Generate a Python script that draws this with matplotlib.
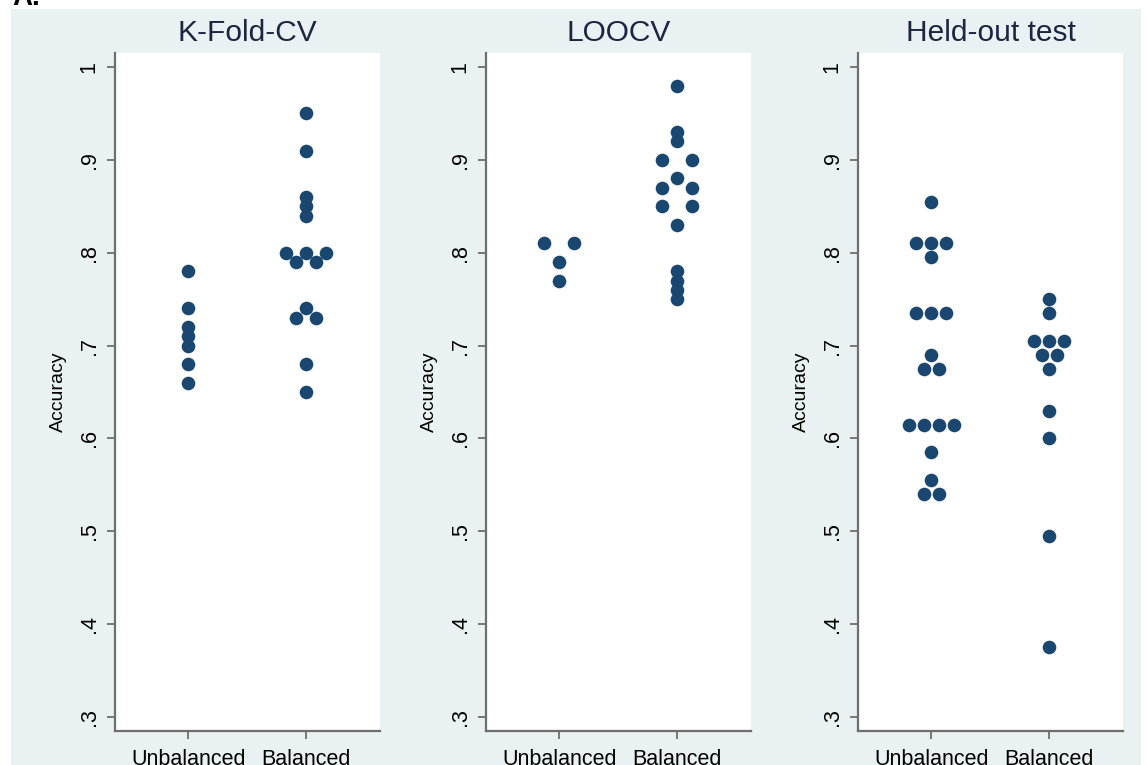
import numpy as np
import matplotlib
matplotlib.use("Agg")
import matplotlib.pyplot as plt
from matplotlib.patches import Rectangle

# ---- data ----
titles = ["K-Fold-CV", "LOOCV", "Held-out test"]
categories = ["Unbalanced", "Balanced"]

kfold_unbalanced = [0.78, 0.74, 0.72, 0.71, 0.70, 0.68, 0.66]
kfold_balanced = [0.95, 0.91, 0.86, 0.85, 0.84, 0.80, 0.80, 0.80, 0.79, 0.79,
                  0.74, 0.73, 0.73, 0.68, 0.65]
loocv_unbalanced = [0.81, 0.81, 0.79, 0.77]
loocv_balanced = [0.98, 0.93, 0.92, 0.90, 0.90, 0.88, 0.87, 0.87, 0.85, 0.85,
                  0.83, 0.78, 0.77, 0.76, 0.75]
heldout_unbalanced = [0.855, 0.81, 0.81, 0.81, 0.795, 0.735, 0.735, 0.735, 0.69,
                      0.675, 0.675, 0.615, 0.615, 0.615, 0.615, 0.585, 0.555,
                      0.54, 0.54]
heldout_balanced = [0.75, 0.735, 0.705, 0.705, 0.705, 0.69, 0.69, 0.675, 0.63,
                    0.60, 0.495, 0.375]

yticks = [0.3, 0.4, 0.5, 0.6, 0.7, 0.8, 0.9, 1.0]
ytick_labels = [".3", ".4", ".5", ".6", ".7", ".8", ".9", "1"]

panels = [
    (kfold_unbalanced, kfold_balanced),
    (loocv_unbalanced, loocv_balanced),
    (heldout_unbalanced, heldout_balanced),
]

# ---- style ----
W, H = 1147, 765
bg = "#eaf1f3"
dot = "#1a476f"
title_col = "#1c2541"
axis_col = "#6e6e6e"
plt.rcParams["font.family"] = ["Liberation Sans", "DejaVu Sans"]

fig = plt.figure(figsize=(W / 100, H / 100), dpi=100)
fig.patch.set_facecolor("white")
fig.patches.append(Rectangle((11 / W, 0), (1141 - 11) / W, (H - 9) / H,
                             transform=fig.transFigure, facecolor=bg,
                             edgecolor="none", zorder=-10))
fig.text(12 / W, 1 - 5 / H, "A.", fontsize=20, fontweight="bold",
         color="black", va="baseline", ha="left")

lefts = [115, 486, 858]
pw = 265
top, bottom = 53, 731
spread = 0.508  # total horizontal width used by the widest row (category units)

for i, (left, title, (ub, bl)) in enumerate(zip(lefts, titles, panels)):
    ax = fig.add_axes([left / W, 1 - bottom / H, pw / W, (bottom - top) / H])
    ax.set_facecolor("white")
    groups = [np.asarray(ub), np.asarray(bl)]
    maxcount = max(np.unique(g, return_counts=True)[1].max() for g in groups)
    step = spread / maxcount
    for ci, g in enumerate(groups):
        vals, counts = np.unique(g, return_counts=True)
        xs, ys = [], []
        for v, c in zip(vals, counts):
            offs = (np.arange(c) - (c - 1) / 2) * step
            xs.extend(ci + offs)
            ys.extend([v] * c)
        ax.plot(xs, ys, "o", color=dot, markersize=9.8, markeredgewidth=0,
                clip_on=False)
    ax.set_xlim(-0.62, 1.625)
    ax.set_ylim(0.285, 1.015)
    ax.set_xticks([0, 1])
    ax.set_xticklabels(categories, fontsize=15.5, color="black")
    ax.set_yticks(yticks)
    ax.set_yticklabels(ytick_labels, fontsize=15.5, color="black", rotation=90,
                       va="center")
    ax.tick_params(axis="both", direction="out", length=6, width=1.3,
                   color=axis_col)
    ax.tick_params(axis="x", pad=7)
    ax.tick_params(axis="y", pad=5)
    for s in ["top", "right"]:
        ax.spines[s].set_visible(False)
    for s in ["left", "bottom"]:
        ax.spines[s].set_color(axis_col)
        ax.spines[s].set_linewidth(1.6)
    ax.set_ylabel("Accuracy", fontsize=14, color="black")
    ax.yaxis.set_label_coords(-48 / pw, 0.5)
    ax.set_title(title, fontsize=21.5, color=title_col, pad=9)

fig.savefig("out.png", dpi=100, facecolor=fig.get_facecolor())
